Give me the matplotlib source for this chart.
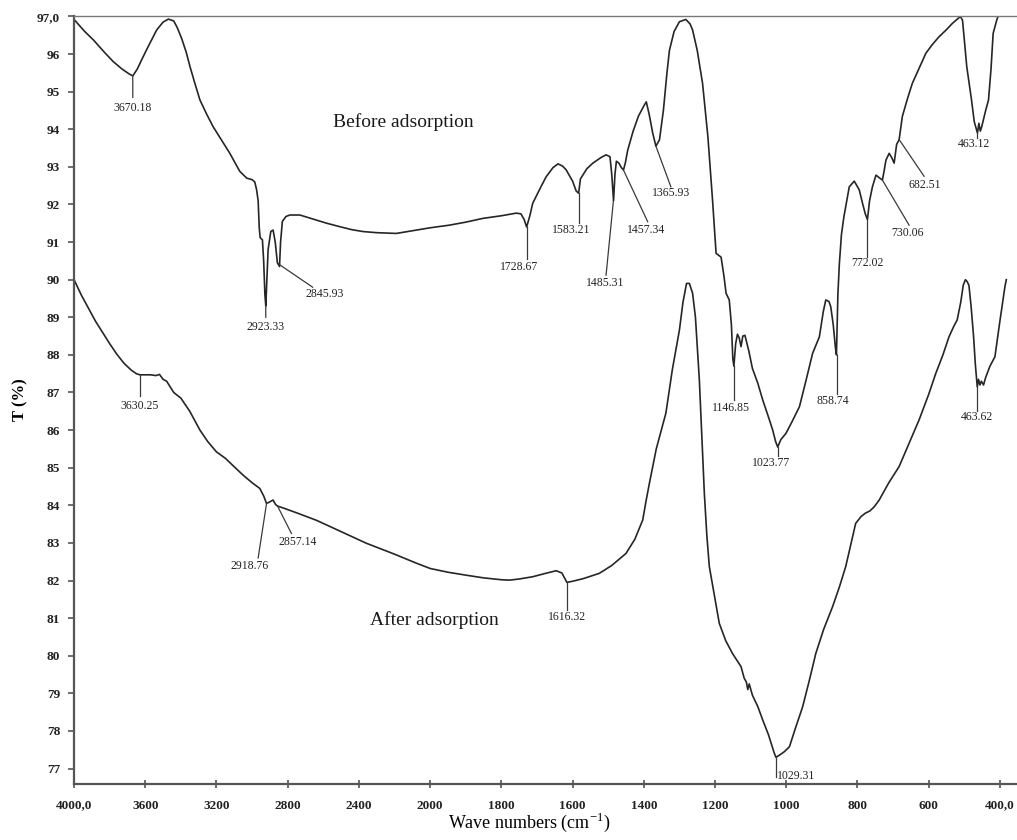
import numpy as np
import matplotlib
matplotlib.use("Agg")
import matplotlib.pyplot as plt

plt.rcParams["font.family"] = ["Liberation Serif", "DejaVu Serif"]
plt.rcParams["mathtext.fontset"] = "custom"
plt.rcParams["mathtext.rm"] = "Liberation Serif"

# FTIR spectrum before adsorption (wavenumber cm-1, transmittance %)
before_wn = [4000, 3940, 3892, 3830, 3780, 3730, 3690, 3670, 3645, 3620, 3592, 3560, 3536, 3500,
             3470, 3440, 3420, 3396, 3370, 3349, 3320, 3293, 3255, 3219, 3170, 3125, 3069, 3030,
             3000, 2985, 2975, 2966, 2960, 2955, 2942, 2935, 2928, 2923, 2918, 2910, 2895, 2882,
             2870, 2858, 2846, 2840, 2830, 2810, 2788, 2732, 2650, 2580, 2508, 2440, 2377, 2300,
             2190, 2100, 2000, 1946, 1900, 1852, 1800, 1758, 1745, 1736, 1729, 1720, 1712, 1690,
             1674, 1655, 1641, 1628, 1618, 1600, 1590, 1583, 1578, 1560, 1543, 1520, 1506, 1495,
             1490, 1485, 1481, 1477, 1470, 1463, 1457, 1452, 1445, 1430, 1415, 1400, 1393, 1385,
             1375, 1366, 1356, 1345, 1335, 1328, 1315, 1300, 1282, 1270, 1263, 1250, 1235, 1220,
             1207, 1197, 1183, 1175, 1169, 1160, 1154, 1150, 1147, 1142, 1137, 1132, 1127, 1122,
             1116, 1105, 1095, 1080, 1066, 1050, 1038, 1030, 1024, 1015, 1001, 985, 963, 945,
             926, 907, 896, 889, 880, 875, 868, 862, 859, 855, 851, 845, 838, 823, 809, 795, 785,
             778, 772, 766, 758, 748, 740, 730, 725, 720, 711, 704, 697, 690, 683, 674, 660, 646,
             628, 608, 590, 571, 550, 533, 511, 505, 493, 480, 472, 463, 459, 455, 451, 440, 432,
             425, 419, 409, 402]
before_t = [96.92, 96.6, 96.38, 96.05, 95.8, 95.6, 95.47, 95.42, 95.6, 95.85, 96.12, 96.42, 96.64, 96.85,
            96.93, 96.88, 96.7, 96.42, 96.05, 95.67, 95.2, 94.78, 94.4, 94.07, 93.7, 93.36, 92.88, 92.7,
            92.66, 92.6, 92.4, 92.1, 91.4, 91.12, 91.06, 90.5, 89.6, 89.3, 89.9, 90.8, 91.28, 91.32,
            91.0, 90.45, 90.35, 91.0, 91.55, 91.68, 91.72, 91.72, 91.6, 91.5, 91.41, 91.33, 91.28, 91.25,
            91.23, 91.3, 91.38, 91.45, 91.53, 91.63, 91.7, 91.77, 91.75, 91.6, 91.4, 91.7, 92.03, 92.45,
            92.74, 92.98, 93.08, 93.02, 92.92, 92.62, 92.36, 92.3, 92.68, 92.95, 93.1, 93.25, 93.32, 93.27,
            92.8, 92.1, 92.8, 93.15, 93.1, 92.98, 92.92, 93.1, 93.45, 93.95, 94.35, 94.62, 94.73, 94.4,
            93.9, 93.55, 93.72, 94.5, 95.5, 96.1, 96.6, 96.86, 96.92, 96.8, 96.64, 96.1, 95.22, 93.8,
            92.12, 90.7, 90.6, 90.1, 89.64, 89.46, 88.8, 87.9, 87.7, 88.3, 88.55, 88.45, 88.22, 88.5,
            88.52, 88.1, 87.64, 87.25, 86.8, 86.35, 86.0, 85.7, 85.55, 85.75, 85.91, 86.2, 86.62, 87.3,
            88.04, 88.48, 89.15, 89.46, 89.42, 89.28, 88.8, 88.2, 88.0, 89.6, 90.4, 91.2, 91.68, 92.47, 92.62, 92.39, 92.0,
            91.75, 91.6, 92.1, 92.47, 92.78, 92.72, 92.65, 92.9, 93.18, 93.36, 93.25, 93.1, 93.6, 93.72, 94.34, 94.8, 95.22,
            95.6, 96.02, 96.25, 96.46, 96.65, 96.82, 97.0, 96.9, 95.66, 94.8, 94.2, 93.9, 94.16, 93.95, 94.07, 94.5, 94.78,
            95.6, 96.55, 96.9, 97.1]

# FTIR spectrum after adsorption
after_wn = [4000, 3960, 3920, 3880, 3840, 3800, 3760, 3720, 3680, 3650, 3630, 3600, 3570, 3540,
            3520, 3500, 3480, 3460, 3440, 3400, 3350, 3293, 3250, 3200, 3150, 3106, 3050, 3000,
            2957, 2935, 2919, 2905, 2882, 2868, 2857, 2826, 2750, 2638, 2500, 2358, 2200, 2077,
            2000, 1950, 1898, 1850, 1800, 1777, 1750, 1712, 1680, 1646, 1630, 1616, 1600, 1570,
            1525, 1490, 1450, 1425, 1403, 1394, 1384, 1365, 1338, 1320, 1300, 1290, 1280, 1272,
            1263, 1255, 1244, 1237, 1230, 1223, 1216, 1200, 1188, 1170, 1151, 1140, 1127, 1118,
            1112, 1108, 1104, 1095, 1080, 1066, 1050, 1040, 1034, 1029, 1020, 1005, 991, 975,
            954, 935, 917, 895, 870, 850, 833, 820, 805, 790, 778, 765, 753, 739, 712, 683, 655,
            627, 600, 580, 560, 543, 530, 520, 510, 503, 497, 492, 487, 481, 474, 469, 466, 463.6,
            460, 456, 452, 446, 440, 428, 414, 400, 386, 382]
after_t = [90.0, 89.6, 89.25, 88.9, 88.6, 88.3, 88.02, 87.78, 87.6, 87.5, 87.47, 87.47, 87.47, 87.45,
           87.48, 87.35, 87.3, 87.15, 87.0, 86.85, 86.5, 86.0, 85.7, 85.42, 85.25, 85.05, 84.8, 84.6,
           84.45, 84.25, 84.05, 84.08, 84.14, 84.02, 83.98, 83.93, 83.8, 83.6, 83.3, 82.99, 82.7, 82.46,
           82.32, 82.22, 82.14, 82.07, 82.02, 82.01, 82.04, 82.1, 82.18, 82.26, 82.2, 81.95, 81.98, 82.05,
           82.19, 82.4, 82.72, 83.1, 83.61, 84.1, 84.6, 85.5, 86.45, 87.6, 88.66, 89.4, 89.9, 89.9,
           89.64, 89.0, 87.33, 85.8, 84.32, 83.2, 82.37, 81.5, 80.86, 80.4, 80.06, 79.9, 79.71, 79.4,
           79.3, 79.1, 79.25, 78.95, 78.65, 78.29, 77.9, 77.6, 77.42, 77.3, 77.35, 77.45, 77.58, 78.05,
           78.64, 79.35, 80.06, 80.7, 81.3, 81.85, 82.37, 82.9, 83.52, 83.7, 83.79, 83.85, 83.96, 84.14, 84.6, 85.03, 85.65,
           86.27, 86.95, 87.51, 88.0, 88.48, 88.75, 88.93, 89.4, 89.85, 90.0, 89.95, 89.85, 89.3, 88.5, 87.75, 87.4, 87.15,
           87.35, 87.2, 87.3, 87.2, 87.4, 87.7, 87.95, 88.9, 89.81, 90.0]

# peak labels
before_peaks = [3670.18, 2923.33, 2845.93, 1728.67, 1583.21, 1485.31, 1457.34, 1365.93,
                1146.85, 1023.77, 858.74, 772.02, 730.06, 682.51, 463.12]
after_peaks = [3630.25, 2918.76, 2857.14, 1616.32, 1029.31, 463.62]

# leader layout: (curve y, line end x, line end y, text x, text y)
before_layout = [
    (95.42, 3670, 94.85, 3670, 94.56),
    (89.3, 2923, 89.0, 2923, 88.75),
    (90.4, 2660, 89.8, 2592, 89.62),
    (91.4, 1728.67, 90.55, 1750, 90.35),
    (92.3, 1583.21, 91.5, 1605, 91.32),
    (92.1, 1506, 90.12, 1508, 89.9),
    (92.92, 1389, 91.54, 1394, 91.32),
    (93.55, 1324, 92.47, 1324, 92.31),
    (87.7, 1146.85, 86.8, 1156, 86.58),
    (85.55, 1023.77, 85.3, 1042, 85.12),
    (88.0, 858.74, 86.95, 868, 86.78),
    (91.6, 772.02, 90.6, 772, 90.44),
    (92.65, 655, 91.45, 660, 91.23),
    (93.72, 613, 92.75, 610, 92.52),
    (93.9, 463.12, 93.78, 472, 93.61),
]
after_layout = [
    (87.47, 3630.25, 86.9, 3630.25, 86.65),
    (84.05, 2966, 82.6, 3013, 82.39),
    (83.98, 2779, 83.25, 2745, 83.03),
    (81.95, 1616.32, 81.22, 1616.32, 81.04),
    (77.3, 1029.31, 76.78, 1025, 76.81),
    (87.15, 463.62, 86.52, 463.62, 86.34),
]


# wavenumber axis is compressed by half above 2000 cm-1
def fwd(x):
    x = np.asarray(x, dtype=float)
    return np.where(x > 2000, 2000 + (x - 2000) / 2, x)


def inv(t):
    t = np.asarray(t, dtype=float)
    return np.where(t > 2000, 2000 + (t - 2000) * 2, t)


fig = plt.figure(figsize=(10.17, 8.4), dpi=100)
ax = fig.add_axes([0.0728, 0.0663, 0.9272, 0.9141])
ax.set_xscale("function", functions=(fwd, inv))

line_col = "#262626"
ax.plot(before_wn, before_t, color=line_col, lw=1.2)
ax.plot(after_wn, after_t, color=line_col, lw=1.2)

for val, (y0, lx, ly, tx, ty) in zip(before_peaks + after_peaks, before_layout + after_layout):
    ax.plot([val, lx], [y0, ly], color="#3a3a3a", lw=0.9)
    ha = "left" if val == 1029.31 else "center"
    ax.text(tx, ty, f"{val:.2f}", fontsize=8.5, ha=ha, va="center", color="#222222")

ax.text(2149, 94.19, "Before adsorption", fontsize=14, ha="center", va="center", color="#1a1a1a")
ax.text(1987, 80.95, "After adsorption", fontsize=14, ha="center", va="center", color="#1a1a1a")

xticks = [4000, 3600, 3200, 2800, 2400, 2000, 1800, 1600, 1400, 1200, 1000, 800, 600, 400]
xlabels = ["4000,0"] + [str(v) for v in xticks[1:-1]] + ["400,0"]
yticks = list(range(77, 98))
ylabels = [str(v) for v in yticks[:-1]] + ["97,0"]

ax.set_xlim(4000, 352)
ax.set_ylim(76.58, 97.0)
ax.set_xticks(xticks)
ax.set_xticklabels(xlabels, fontsize=9.5, fontweight="bold", color="#222222")
ax.set_yticks(yticks)
ax.set_yticklabels(ylabels, fontsize=9.5, fontweight="bold", color="#222222")
ax.xaxis.set_minor_locator(matplotlib.ticker.NullLocator())
ax.tick_params(axis="x", direction="inout", length=6, width=1.2, color="#555555", pad=8)
ax.tick_params(axis="y", direction="out", length=4, width=1.2, color="#555555", pad=6)

for side in ["left", "bottom"]:
    ax.spines[side].set_color("#555555")
    ax.spines[side].set_linewidth(1.6)
ax.spines["top"].set_color("#777777")
ax.spines["top"].set_linewidth(1.0)
ax.spines["right"].set_visible(False)

fig.text(0.52, 1 - 822 / 840, r"Wave numbers (cm$^{-1}$)", fontsize=13, ha="center", va="center")
fig.text(0.02, 0.524, "T (%)", fontsize=12, fontweight="bold", rotation=90, ha="center", va="center")

fig.savefig("out.png", dpi=100)
